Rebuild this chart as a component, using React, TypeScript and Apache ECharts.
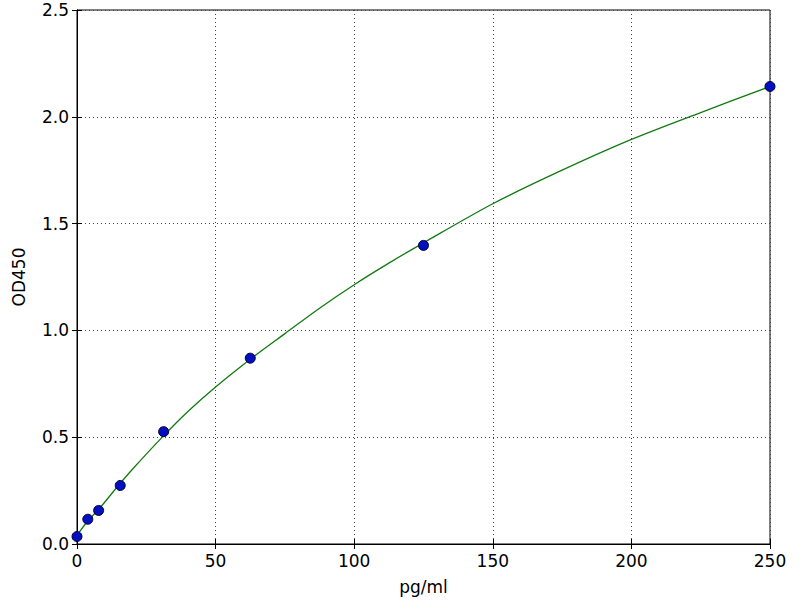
import React from "react";
import * as echarts from "echarts";

// standards: concentration (pg/ml) and measured OD450
const stdConc = [0, 3.9, 7.8, 15.6, 31.25, 62.5, 125, 250];
const stdOD = [0.035, 0.116, 0.157, 0.274, 0.526, 0.87, 1.398, 2.142];

// fitted curve
const fitConc = [0, 4, 8, 15, 20, 30, 40, 50, 62.5, 75, 87.5, 100, 112.5, 125, 150, 175, 200, 225, 250];
const fitOD = [0.04, 0.11, 0.165, 0.275, 0.35, 0.49, 0.62, 0.735, 0.865, 0.985, 1.104, 1.214, 1.315, 1.41, 1.593, 1.75, 1.894, 2.02, 2.142];

const xTicks = [0, 50, 100, 150, 200, 250];
const yTicks = [0, 0.5, 1.0, 1.5, 2.0, 2.5];

const FONT = "DejaVu Sans";

const App: React.FC = () => {
    const chartRef = React.useRef<HTMLDivElement>(null);

    React.useEffect(() => {
        if (!chartRef.current) return;
        const chart = echarts.init(chartRef.current, undefined, { renderer: "svg" });

        const xMin = xTicks[0];
        const xMax = xTicks[xTicks.length - 1];
        const yMin = yTicks[0];
        const yMax = yTicks[yTicks.length - 1];

        const tickInside = { show: true, inside: true, length: 5, lineStyle: { color: "#000", width: 1 } };
        const dotted = { show: true, lineStyle: { color: "#444", width: 1, type: [1, 3] } };

        const option = {
            animation: false,
            grid: {
                left: 77,
                right: 30,
                top: 10,
                bottom: 54,
                show: true,
                borderColor: "#000",
                borderWidth: 1,
                backgroundColor: "transparent",
            },
            xAxis: [
                {
                    type: "value",
                    min: xMin,
                    max: xMax,
                    interval: 50,
                    position: "bottom",
                    name: "pg/ml",
                    nameLocation: "middle",
                    nameGap: 34,
                    nameTextStyle: { color: "#000", fontSize: 17, fontFamily: FONT },
                    axisLine: { show: true, lineStyle: { color: "#000", width: 1 } },
                    axisTick: tickInside,
                    axisLabel: {
                        color: "#000",
                        fontSize: 17,
                        fontFamily: FONT,
                        margin: 8,
                        formatter: (v: number) => String(v),
                    },
                    splitLine: dotted,
                },
                {
                    type: "value",
                    min: xMin,
                    max: xMax,
                    interval: 50,
                    position: "top",
                    axisLine: { show: true, lineStyle: { color: "#000", width: 1 } },
                    axisTick: tickInside,
                    axisLabel: { show: false },
                    splitLine: { show: false },
                },
            ],
            yAxis: [
                {
                    type: "value",
                    min: yMin,
                    max: yMax,
                    interval: 0.5,
                    position: "left",
                    name: "OD450",
                    nameLocation: "middle",
                    nameGap: 50,
                    nameRotate: 90,
                    nameTextStyle: { color: "#000", fontSize: 17, fontFamily: FONT },
                    axisLine: { show: true, lineStyle: { color: "#000", width: 1 } },
                    axisTick: tickInside,
                    axisLabel: {
                        color: "#000",
                        fontSize: 17,
                        fontFamily: FONT,
                        margin: 8,
                        formatter: (v: number) => v.toFixed(1),
                    },
                    splitLine: dotted,
                },
                {
                    type: "value",
                    min: yMin,
                    max: yMax,
                    interval: 0.5,
                    position: "right",
                    axisLine: { show: true, lineStyle: { color: "#000", width: 1 } },
                    axisTick: tickInside,
                    axisLabel: { show: false },
                    splitLine: { show: false },
                },
            ],
            series: [
                {
                    name: "fit",
                    type: "line",
                    data: fitConc.map((c, i) => [c, fitOD[i]]),
                    smooth: 0.3,
                    showSymbol: false,
                    symbol: "none",
                    lineStyle: { color: "#117a11", width: 1.3 },
                    z: 2,
                },
                {
                    name: "standards",
                    type: "scatter",
                    data: stdConc.map((c, i) => [c, stdOD[i]]),
                    symbol: "circle",
                    symbolSize: 10,
                    itemStyle: { color: "#0010c0", borderColor: "#000033", borderWidth: 1, opacity: 1 },
                    z: 3,
                },
            ],
        };

        chart.setOption(option as any);

        return () => {
            chart.dispose();
        };
    }, []);

    return (
        <div
            ref={chartRef}
            style={{ position: "absolute", left: 0, top: 0, width: "800px", height: "600px", background: "#fff" }}
        />
    );
};

export default App;
